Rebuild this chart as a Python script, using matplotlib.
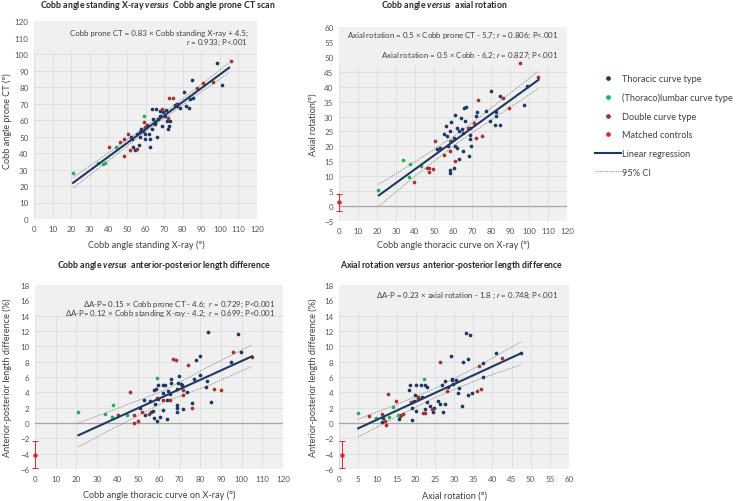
import matplotlib
matplotlib.use('Agg')
import matplotlib.pyplot as plt
from matplotlib.lines import Line2D
from matplotlib.patches import Rectangle

plt.rcParams['font.family'] = ['Lato', 'DejaVu Sans']
plt.rcParams['mathtext.fontset'] = 'custom'
plt.rcParams['mathtext.rm'] = 'Lato'
plt.rcParams['mathtext.it'] = 'Lato:italic'
plt.rcParams['mathtext.bf'] = 'Lato:bold'
plt.rcParams['mathtext.sf'] = 'Lato:bold:italic'

# ---------------- colours ----------------
C_THOR = '#1f3864'
C_LUMB = '#1fb45a'
C_DOUB = '#a8302e'
C_CTRL = '#e52626'
BG = '#f0f0f0'
GRID = '#dcdcdc'
TXT = '#404040'

# ---------------- Panel 1 data: Cobb standing X-ray vs Cobb prone CT ----------------
p1_thor_x = [98.7, 101, 84.9, 80.7, 84, 83.6, 85.8, 78.6, 77, 63.5, 65.7, 67.8, 70.3, 71.4, 72.8, 73.2,
             66.9, 67.8, 68.7, 65.1, 63.3, 63.9, 61, 60.3, 58.5, 57.8, 57.1, 59.6, 62.1, 62.4, 59.7,
             57.1, 66.4, 72.3, 53.5, 54.4, 56.5, 62.4, 52, 55.6, 52.8, 76.8, 75.9, 81.8, 69.6, 71, 65.3]
p1_thor_y = [94.5, 81.2, 84.2, 77.2, 72.7, 67.1, 73.5, 67.1, 70, 66.7, 66.7, 65.6, 62.6, 59.6, 56.6, 59.6,
             60.6, 62.6, 56.6, 58.6, 54.5, 60.6, 57, 55.5, 53.5, 54.5, 52.9, 51.5, 51.5, 48.5, 48.5,
             49.5, 49.5, 54.5, 43.4, 42, 44.8, 43.8, 49.5, 51.5, 48.5, 68.7, 69.1, 68.3, 64.6, 66.3, 57.6]
p1_lumb_x = [21.2, 34.3, 37, 38.2, 44.1, 59.4]
p1_lumb_y = [27.9, 33.9, 33.3, 33.7, 43.8, 62.6]
p1_doub_x = [105.9, 90.8, 87.6, 96.5, 72.7, 75, 77.2, 68.7, 59.4, 59.7, 50.8, 48.6, 46.3, 40.6, 51.7, 55.6, 48.4, 72]
p1_doub_y = [95.9, 82.4, 79.2, 83.2, 73.1, 73.1, 69.1, 66.7, 59, 55.5, 51.5, 48.5, 46.9, 43.4, 42, 42.4, 38.4, 61]
p1_fit_x = [21, 105]
p1_fit_y = [21.9, 91.7]
p1_ci_x = [21, 40, 63, 85, 105]
p1_ci_hi = [25.1, 40.0, 58.3, 77.1, 94.7]
p1_ci_lo = [18.7, 35.4, 55.3, 73.1, 88.7]

# ---------------- Panel 2 data: Cobb X-ray vs axial rotation ----------------
p2_thor_x = [99, 84.5, 82.6, 82.4, 81.9, 84.5, 97.2, 77.5, 72.6, 79.6, 72.2, 66.6, 65.9, 64.1, 66.3, 69.1,
             61.3, 62, 64.5, 63.4, 58.9, 56.1, 57.1, 55, 68.7, 68.7, 65.5, 60.3, 61.3, 62, 57.6, 53.2,
             51.8, 65.5, 68.2, 63.4, 60.6, 58.2, 58.2, 69.4, 58.5, 80]
p2_thor_y = [40.2, 36.8, 31.6, 30.3, 27.2, 27.2, 33.7, 31.9, 31.6, 28.6, 30.3, 33.1, 33, 29.4, 28.6, 26,
             30.5, 26, 25.8, 25, 28.3, 26.7, 23.6, 24.1, 23.8, 22.5, 24.5, 22.7, 20.2, 19.3, 20, 19.3,
             19.1, 18.4, 16.8, 15.7, 12.9, 12.1, 11, 20, 25.2, 38.5]
p2_lumb_x = [20.7, 33.6, 37.6, 36.6, 43.2, 58.2]
p2_lumb_y = [5.4, 15.3, 14.0, 9.9, 13.3, 21.9]
p2_doub_x = [95.1, 104.5, 86.1, 73.1, 89.3, 71.2, 67.8, 75.2, 71.9, 50.6, 58.9, 58.5, 61.2, 46.2, 47.6, 49.7, 47.4, 39.5, 55]
p2_doub_y = [47.8, 43.3, 36.3, 35.7, 33, 27.8, 26.2, 23.6, 22.7, 21.9, 21.9, 18.6, 15, 12.9, 12.6, 12.4, 11.5, 8.1, 17]
p2_ctrl_x = [0]
p2_ctrl_y = [1.2]
p2_ctrl_err_lo = [2.9]
p2_ctrl_err_hi = [2.8]
p2_fit_x = [21, 105]
p2_fit_y = [3.6, 42.3]
p2_ci_x = [21, 40, 63, 85, 105]
p2_ci_hi = [7.3, 14.8, 24.5, 35.3, 45.2]
p2_ci_lo = [0.0, 10.0, 21.5, 30.9, 39.4]

# ---------------- Panel 3 data: Cobb X-ray vs A-P length difference ----------------
p3_thor_x = [83.9, 98, 99.5, 94.7, 80, 77.9, 79.8, 77.1, 83.1, 82.6, 85, 69.8, 69.4, 70.5, 71.1, 73.4,
             68.5, 66, 65.8, 64.5, 65.3, 62.9, 62.1, 63.7, 61.8, 58.6, 59.7, 57.7, 59.4, 58.1, 55.6,
             52.9, 53.2, 56, 56.9, 57.6, 58.9, 60.5, 61.8, 63.9, 68.5, 68.9, 68.9, 71.8, 75.8, 50.8]
p3_thor_y = [11.9, 11.6, 9.2, 7.9, 8.8, 8.2, 6.2, 5.8, 5.5, 4.7, 2.7, 6.1, 5.2, 5.1, 4.9, 4.0,
             4.5, 5.7, 5.2, 4.2, 3.8, 5.0, 4.9, 3.0, 3.9, 4.4, 4.9, 4.3, 3.1, 2.5, 2.9,
             3.0, 1.0, 1.5, 1.6, 0.6, 0.3, 0.8, 1.7, 0.5, 2.3, 1.9, 1.4, 1.8, 2.6, 2.0]
p3_lumb_x = [21, 34, 37.9, 37.1, 44.4, 58.9]
p3_lumb_y = [1.4, 1.2, 2.3, 0.8, 1.0, 5.9]
p3_doub_x = [96, 104.8, 66.6, 68.1, 73.9, 86.8, 89.8, 71.8, 71.8, 75.8, 46, 40.3, 47.9, 47.9, 50, 51.6, 55, 65.3, 61.8, 58.9]
p3_doub_y = [9.3, 8.65, 8.3, 8.2, 7.6, 4.5, 4.3, 4.3, 3.6, 2.0, 4.0, 1.1, 1.1, 0.0, 0.3, 1.4, 1.2, 3.0, 3.0, 3.3]
p3_ctrl_x = [0]
p3_ctrl_y = [-4.2]
p3_ctrl_err_lo = [1.7]
p3_ctrl_err_hi = [1.9]
p3_fit_x = [21, 105]
p3_fit_y = [-1.6, 8.7]
p3_ci_x = [21, 40, 63, 85, 105]
p3_ci_hi = [0.0, 1.9, 4.3, 7.5, 10.2]
p3_ci_lo = [-3.1, -0.4, 2.8, 5.0, 7.4]

# ---------------- Panel 4 data: axial rotation vs A-P length difference ----------------
p4_thor_x = [33.2, 34.3, 41, 29.1, 32.3, 33.6, 37.5, 37.6, 29.4, 29.6, 30.4, 29.8, 27.7, 26.8, 28.5, 31.3,
             31, 33.7, 34.6, 32.2, 18.5, 18.2, 20.1, 21.4, 22.4, 23, 19.8, 19.6, 20.5, 21.6, 22.9, 22.4,
             19.1, 20, 23.7, 24.4, 24.9, 25.7, 26.4, 27, 27.7, 19.1, 15.7, 15.9, 11.1, 11.6, 47.5]
p4_thor_y = [11.8, 11.5, 9.1, 8.7, 8.0, 8.3, 7.8, 6.0, 5.8, 5.6, 5.6, 5.1, 5.5, 5.0, 4.7, 4.6,
             3.9, 3.6, 3.9, 2.2, 4.9, 4.3, 5.0, 4.9, 5.0, 4.7, 3.6, 2.9, 3.2, 3.4, 2.8, 1.8,
             2.0, 1.6, 2.2, 1.4, 1.9, 2.9, 2.5, 1.4, 2.5, 0.4, 0.5, 0.9, 0.1, 0.6, 9.1]
p4_lumb_x = [5.05, 9.6, 13.0, 14.2, 15.3, 22.1]
p4_lumb_y = [1.3, 0.7, 0.8, 2.1, 1.0, 5.7]
p4_doub_x = [7.9, 11.1, 12, 12.2, 12.7, 14.9, 16.8, 16.3, 18.8, 20.7, 21.8, 24.2, 26.4, 28.3, 36.4, 42.4, 36.1, 37.1, 22.4]
p4_doub_y = [0.95, 1.2, 0.2, -0.2, 3.8, 2.9, 1.2, 1.0, 2.8, 3.4, 1.3, 1.8, 8.0, 4.2, 7.5, 8.5, 4.2, 4.4, 1.3]
p4_ctrl_x = [0.8]
p4_ctrl_y = [-4.2]
p4_ctrl_err_lo = [1.7]
p4_ctrl_err_hi = [1.8]
p4_fit_x = [5, 47.5]
p4_fit_y = [-0.7, 9.1]
p4_ci_x = [5, 15, 25, 37, 47.5]
p4_ci_hi = [0.5, 2.4, 4.5, 7.6, 10.6]
p4_ci_lo = [-1.8, 0.8, 3.3, 5.8, 7.6]

W, H = 736, 502
fig = plt.figure(figsize=(W / 100, H / 100), dpi=100)
fig.patch.set_facecolor('white')


def px_axes(x0, y0, x1, y1):
    return fig.add_axes([x0 / W, 1 - y1 / H, (x1 - x0) / W, (y1 - y0) / H])


def ftext(x, y, s, **kw):
    fig.text(x / W, 1 - y / H, s, **kw)


def style(ax, xlim, ylim, xt, yt, mask_from, zero_line=True):
    ax.set_facecolor(BG)
    for sp in ax.spines.values():
        sp.set_visible(False)
    ax.set_xlim(*xlim)
    ax.set_ylim(*ylim)
    ax.set_xticks(xt)
    ax.set_yticks(yt)
    ax.tick_params(length=0, labelsize=5.8, labelcolor='#555555', pad=4)
    ax.grid(True, color=GRID, linewidth=0.6)
    ax.set_axisbelow(True)
    ax.add_patch(Rectangle((xlim[0], mask_from), xlim[1] - xlim[0], ylim[1] - mask_from,
                           facecolor=BG, edgecolor='none', zorder=0.8))
    if zero_line:
        ax.axhline(0, color='#a6a6a6', linewidth=0.9, zorder=0.9)


def draw(ax, thor, lumb, doub, fit, ci, ctrl=None):
    ms = 7
    ax.scatter(*thor, s=ms, color=C_THOR, zorder=3, linewidths=0)
    ax.scatter(*lumb, s=ms, color=C_LUMB, zorder=3, linewidths=0)
    ax.scatter(*doub, s=ms, color=C_DOUB, zorder=3, linewidths=0)
    ax.plot(ci[0], ci[1], color='#8a8a8a', linestyle=(0, (1.5, 1.2)), linewidth=0.6, zorder=2)
    ax.plot(ci[0], ci[2], color='#8a8a8a', linestyle=(0, (1.5, 1.2)), linewidth=0.6, zorder=2)
    ax.plot(*fit, color=C_THOR, linewidth=1.5, zorder=4)
    if ctrl is not None:
        x, y, lo, hi = ctrl
        ax.errorbar(x, y, yerr=[lo, hi], fmt='o', color=C_CTRL, markersize=2.2,
                    elinewidth=0.7, capsize=2, capthick=0.7, zorder=5, clip_on=False)


# ---------- Panel 1 ----------
ax1 = px_axes(34, 22, 257, 220)
style(ax1, (0, 120), (0, 120), range(0, 121, 10), range(0, 121, 10), 101, zero_line=False)
draw(ax1, (p1_thor_x, p1_thor_y), (p1_lumb_x, p1_lumb_y), (p1_doub_x, p1_doub_y),
     (p1_fit_x, p1_fit_y), (p1_ci_x, p1_ci_hi, p1_ci_lo))

# ---------- Panel 2 ----------
ax2 = px_axes(339, 28, 567, 222)
style(ax2, (0, 120), (-5, 60), range(0, 121, 10), range(-5, 61, 5), 47)
draw(ax2, (p2_thor_x, p2_thor_y), (p2_lumb_x, p2_lumb_y), (p2_doub_x, p2_doub_y),
     (p2_fit_x, p2_fit_y), (p2_ci_x, p2_ci_hi, p2_ci_lo),
     (p2_ctrl_x, p2_ctrl_y, p2_ctrl_err_lo, p2_ctrl_err_hi))

# ---------- Panel 3 ----------
ax3 = px_axes(35, 286, 283, 470)
style(ax3, (0, 120), (-6, 18), range(0, 121, 10), range(-6, 19, 2), 14)
draw(ax3, (p3_thor_x, p3_thor_y), (p3_lumb_x, p3_lumb_y), (p3_doub_x, p3_doub_y),
     (p3_fit_x, p3_fit_y), (p3_ci_x, p3_ci_hi, p3_ci_lo),
     (p3_ctrl_x, p3_ctrl_y, p3_ctrl_err_lo, p3_ctrl_err_hi))

# ---------- Panel 4 ----------
ax4 = px_axes(339, 286, 569, 470)
style(ax4, (0, 60), (-6, 18), range(0, 61, 5), range(-6, 19, 2), 14.5)
draw(ax4, (p4_thor_x, p4_thor_y), (p4_lumb_x, p4_lumb_y), (p4_doub_x, p4_doub_y),
     (p4_fit_x, p4_fit_y), (p4_ci_x, p4_ci_hi, p4_ci_lo),
     (p4_ctrl_x, p4_ctrl_y, p4_ctrl_err_lo, p4_ctrl_err_hi))

# ---------- titles ----------
tkw = dict(fontsize=6.3, fontweight='bold', color='#262626', ha='center', va='center')
ftext(158, 6, r'Cobb angle standing X-ray $\mathsf{versus}$  Cobb angle prone CT scan', **tkw)
ftext(444, 6, r'Cobb angle $\mathsf{versus}$  axial rotation', **tkw)
ftext(164, 266, r'Cobb angle $\mathsf{versus}$  anterior-posterior length difference', **tkw)
ftext(452, 266, r'Axial rotation $\mathsf{versus}$  anterior-posterior length difference', **tkw)

# ---------- axis labels ----------
lkw = dict(fontsize=6.6, color=TXT, ha='center', va='center')
ftext(146, 245, 'Cobb angle standing X-ray (°)', **lkw)
ftext(453, 245, 'Cobb angle thoracic curve on X-ray (°)', **lkw)
ftext(159, 495, 'Cobb angle thoracic curve on X-ray (°)', **lkw)
ftext(454, 496, 'Axial rotation (°)', **lkw)
ftext(7, 121, 'Cobb angle prone CT (°)', rotation=90, **lkw)
ftext(313, 125, 'Axial rotation(°)', rotation=90, **lkw)
ftext(7, 378, 'Anterior-posterior length difference (%)', rotation=90, **lkw)
ftext(313, 378, 'Anterior-posterior length difference (%)', rotation=90, **lkw)

# ---------- equations ----------
ekw = dict(fontsize=5.7, color=TXT, ha='right', va='center')
ftext(248, 33, 'Cobb prone CT = 0.83 × Cobb standing X-ray + 4.5;', **ekw)
ftext(248, 43, r'$r$ = 0.933; P<.001', **ekw)
ftext(558, 36, r'Axial rotation = 0.5 × Cobb prone CT - 5,7; $r$ = 0.806; P<.001', **ekw)
ftext(558, 55.5, r'Axial rotation = 0.5 × Cobb - 6,2; $r$ = 0.827; P<.001', **ekw)
ftext(275, 305, r'ΔA-P= 0.15 × Cobb prone CT - 4.6;  $r$ = 0.729; P<0.001', **ekw)
ftext(275, 314, r'ΔA-P= 0.12 × Cobb standing X-ray - 4.2;  $r$ = 0.699; P<0.001', **ekw)
ftext(558, 296, r'ΔA-P = 0.23 × axial rotation - 1.8 ; $r$ = 0.748; P<.001', **ekw)

# ---------- legend ----------
handles = [
    Line2D([], [], linestyle='none', marker='o', markersize=2.4, color=C_THOR),
    Line2D([], [], linestyle='none', marker='o', markersize=2.4, color=C_LUMB),
    Line2D([], [], linestyle='none', marker='o', markersize=2.4, color=C_DOUB),
    Line2D([], [], linestyle='none', marker='o', markersize=2.4, color=C_CTRL),
    Line2D([], [], color=C_THOR, linewidth=1.5),
    Line2D([], [], color='#8a8a8a', linestyle=(0, (1.5, 1.2)), linewidth=0.6),
]
labels = ['Thoracic curve type', '(Thoraco)lumbar curve type', 'Double curve type',
          'Matched controls', 'Linear regression', '95% CI']
fig.legend(handles, labels, loc='upper left', bbox_to_anchor=(595 / W, 1 - 75 / H),
           frameon=False, fontsize=6.6, labelspacing=1.05, handlelength=2.8,
           handletextpad=0.1, borderpad=0, borderaxespad=0, labelcolor=TXT)

fig.savefig('out.png', dpi=100, facecolor='white')
